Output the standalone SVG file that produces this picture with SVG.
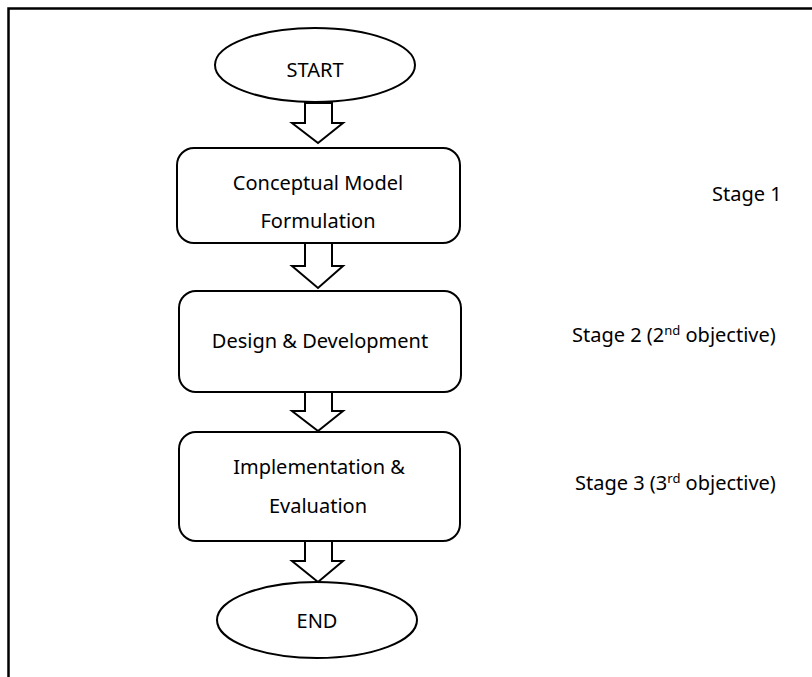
<svg xmlns="http://www.w3.org/2000/svg" width="812" height="677" viewBox="0 0 812 677">
<style>
.shape{fill:#fff;stroke:#000;stroke-width:2}
.frame{fill:none;stroke:#000;stroke-width:2.5}
.t{font-family:"Noto Sans","Open Sans",sans-serif;font-size:20px;fill:#000}
.c{text-anchor:middle}
.sup{font-size:13px}
</style>
<rect width="812" height="677" fill="#fff"/>
<path class="frame" d="M8.5 677 V8.5 H812"/>
<g id="start">
<ellipse class="shape" cx="315" cy="65" rx="100" ry="37"/>
<text class="t c" x="315" y="77">START</text>
</g>
<g id="conceptual">
<rect class="shape" x="177" y="148" width="283" height="95" rx="17"/>
<text class="t c" x="318" y="190">Conceptual Model</text>
<text class="t c" x="318" y="228">Formulation</text>
</g>
<g id="design">
<rect class="shape" x="179" y="291" width="282" height="101" rx="17"/>
<text class="t c" x="320" y="348">Design &amp; Development</text>
</g>
<g id="implementation">
<rect class="shape" x="179" y="432" width="281" height="109" rx="17"/>
<text class="t c" x="319" y="474">Implementation &amp;</text>
<text class="t c" x="318" y="513">Evaluation</text>
</g>
<g id="end">
<ellipse class="shape" cx="317" cy="620" rx="100" ry="38"/>
<text class="t c" x="317" y="628">END</text>
</g>
<g id="labels">
<text class="t" x="712" y="201">Stage 1</text>
<text class="t" x="572" y="342">Stage 2 (2<tspan class="sup" dy="-7">nd</tspan><tspan dy="7"> objective)</tspan></text>
<text class="t" x="575" y="490">Stage 3 (3<tspan class="sup" dy="-7">rd</tspan><tspan dy="7"> objective)</tspan></text>
</g>
<g id="connectors">
<polygon class="shape" points="305,103 332,103 332,123 343,123 318,143 292,123 305,123"/>
<polygon class="shape" points="305,243 332,243 332,266 343,266 318,288 292,266 305,266"/>
<polygon class="shape" points="305,392 332,392 332,411 343,411 318,431 292,411 305,411"/>
<polygon class="shape" points="305,541 332,541 332,561 343,561 318,582 292,561 305,561"/>
</g>
</svg>
